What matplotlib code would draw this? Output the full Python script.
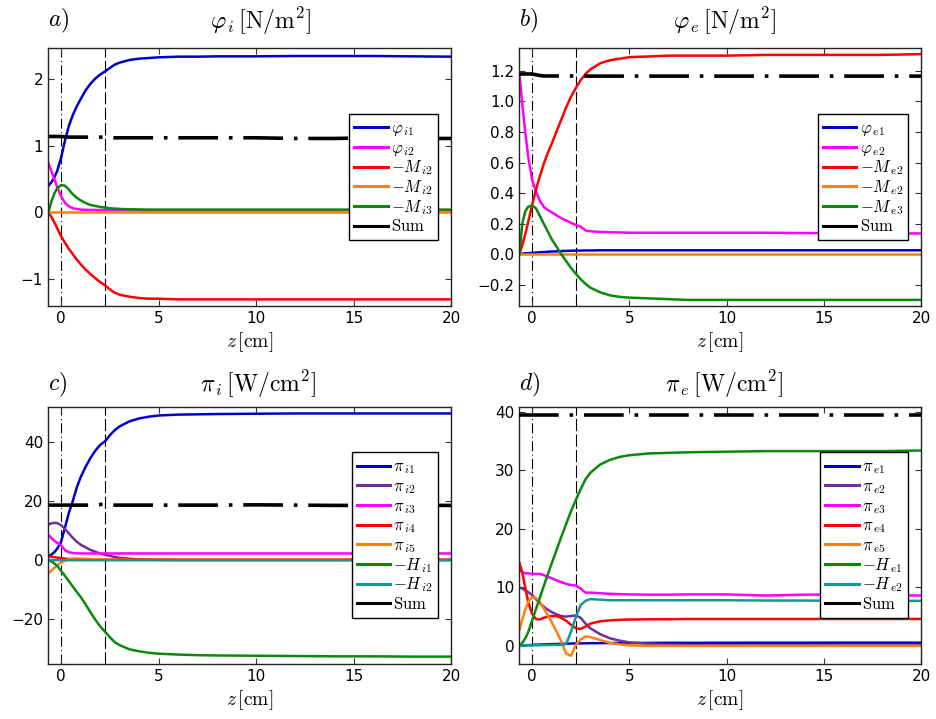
import matplotlib
matplotlib.use('Agg')
import matplotlib.pyplot as plt
from matplotlib.ticker import FuncFormatter

plt.rcParams['mathtext.fontset'] = 'cm'
plt.rcParams['font.family'] = 'DejaVu Sans'

# common z grid [cm]
z = [-0.65, -0.5, -0.35, -0.2, 0, 0.2, 0.4, 0.6, 0.8, 1.0, 1.25, 1.5, 1.75, 2.0, 2.26,
     2.5, 2.75, 3.0, 3.5, 4, 4.5, 5, 6, 7, 8, 10, 12, 14, 16, 18, 20]
z_bound = 0.0
z_dash = 2.26

# a) phi_i
a_phi1 = [0.40, 0.45, 0.52, 0.62, 0.82, 1.08, 1.30, 1.46, 1.59, 1.70, 1.83, 1.93, 2.01, 2.07, 2.12,
          2.17, 2.22, 2.25, 2.29, 2.31, 2.32, 2.33, 2.34, 2.34, 2.345, 2.345, 2.35, 2.35, 2.35, 2.345, 2.34]
a_phi2 = [0.74, 0.62, 0.50, 0.38, 0.24, 0.14, 0.09, 0.06, 0.05, 0.04, 0.037, 0.035, 0.035, 0.033, 0.032,
          0.03, 0.03, 0.03, 0.03, 0.03, 0.03, 0.03, 0.03, 0.03, 0.03, 0.03, 0.03, 0.03, 0.03, 0.03, 0.03]
a_m2 = [0.0, -0.07, -0.15, -0.24, -0.36, -0.46, -0.55, -0.63, -0.71, -0.78, -0.86, -0.93, -0.99, -1.05, -1.10,
        -1.16, -1.21, -1.24, -1.27, -1.29, -1.30, -1.30, -1.31, -1.31, -1.31, -1.31, -1.31, -1.31, -1.31, -1.31, -1.31]
a_m2b = [0.005] * 31
a_m3 = [0.0, 0.16, 0.28, 0.36, 0.41, 0.40, 0.34, 0.27, 0.22, 0.18, 0.14, 0.11, 0.095, 0.08, 0.07,
        0.06, 0.055, 0.05, 0.045, 0.043, 0.04, 0.04, 0.04, 0.04, 0.04, 0.04, 0.04, 0.04, 0.04, 0.04, 0.04]
a_sum = [1.14, 1.14, 1.14, 1.14, 1.14, 1.135, 1.13, 1.13, 1.13, 1.13, 1.13, 1.13, 1.13, 1.13, 1.13,
         1.125, 1.12, 1.12, 1.12, 1.12, 1.12, 1.12, 1.12, 1.12, 1.12, 1.12, 1.11, 1.11, 1.12, 1.11, 1.11]

# b) phi_e
b_phi1 = [0.0, 0.003, 0.005, 0.006, 0.008, 0.01, 0.012, 0.013, 0.015, 0.017, 0.018, 0.02, 0.021, 0.022, 0.023,
          0.023, 0.024, 0.024, 0.025, 0.025, 0.025, 0.025, 0.025, 0.025, 0.025, 0.025, 0.025, 0.025, 0.025, 0.025, 0.025]
b_phi2 = [1.18, 0.98, 0.80, 0.64, 0.49, 0.41, 0.35, 0.31, 0.29, 0.275, 0.255, 0.235, 0.22, 0.205, 0.19,
          0.18, 0.155, 0.15, 0.145, 0.143, 0.142, 0.14, 0.14, 0.14, 0.14, 0.14, 0.14, 0.138, 0.137, 0.136, 0.135]
b_m2 = [0.0, 0.06, 0.13, 0.21, 0.32, 0.42, 0.51, 0.59, 0.66, 0.72, 0.80, 0.88, 0.96, 1.03, 1.09,
        1.14, 1.18, 1.21, 1.25, 1.27, 1.28, 1.29, 1.295, 1.30, 1.30, 1.30, 1.305, 1.305, 1.305, 1.305, 1.31]
b_m2b = [0.0] * 31
b_m3 = [0.0, 0.20, 0.28, 0.31, 0.32, 0.30, 0.25, 0.20, 0.15, 0.10, 0.05, 0.0, -0.045, -0.09, -0.13,
        -0.165, -0.195, -0.22, -0.25, -0.27, -0.28, -0.285, -0.29, -0.295, -0.30, -0.30, -0.30, -0.30, -0.30, -0.30, -0.30]
b_sum = [1.18, 1.18, 1.18, 1.18, 1.18, 1.175, 1.17, 1.167, 1.167, 1.167, 1.167, 1.167, 1.167, 1.167, 1.167,
         1.166, 1.166, 1.166, 1.166, 1.166, 1.166, 1.166, 1.166, 1.166, 1.166, 1.166, 1.166, 1.166, 1.166, 1.166, 1.166]

# c) pi_i
c_pi1 = [1.2, 1.8, 2.6, 3.8, 6.2, 11.0, 16.0, 20.0, 24.5, 28.0, 31.5, 34.5, 37.0, 39.0, 40.3,
         42.3, 44.0, 45.3, 47.0, 48.0, 48.6, 49.0, 49.3, 49.4, 49.5, 49.6, 49.7, 49.7, 49.7, 49.7, 49.7]
c_pi2 = [12.0, 12.4, 12.6, 12.5, 11.8, 10.5, 9.0, 7.5, 6.2, 5.2, 4.3, 3.4, 2.8, 2.2, 1.7,
         1.4, 1.0, 0.7, 0.4, 0.2, 0.1, 0.05, 0.0, 0.0, 0.0, 0.0, 0.0, 0.0, 0.0, 0.0, 0.0]
c_pi3 = [8.5, 7.5, 6.5, 5.8, 5.0, 3.3, 2.6, 2.35, 2.25, 2.2, 2.2, 2.2, 2.2, 2.2, 2.2,
         2.2, 2.2, 2.2, 2.2, 2.2, 2.2, 2.2, 2.2, 2.2, 2.2, 2.2, 2.2, 2.2, 2.2, 2.2, 2.2]
c_pi4 = [1.2, 1.1, 0.95, 0.8, 0.6, 0.45, 0.3, 0.2, 0.15, 0.12, 0.1, 0.1, 0.1, 0.1, 0.1,
         0.1, 0.1, 0.1, 0.1, 0.1, 0.1, 0.1, 0.1, 0.1, 0.1, 0.1, 0.1, 0.1, 0.1, 0.1, 0.1]
c_pi5 = [-4.5, -3.6, -2.7, -1.8, -0.9, -0.2, 0.3, 0.5, 0.5, 0.45, 0.4, 0.3, 0.25, 0.2, 0.15,
         0.1, 0.08, 0.05, 0.0, 0.0, 0.0, 0.0, 0.0, 0.0, 0.0, 0.0, 0.0, 0.0, 0.0, 0.0, 0.0]
c_h1 = [0.0, -0.5, -1.2, -2.0, -3.7, -5.4, -7.2, -9.0, -10.8, -12.5, -15.0, -17.7, -20.2, -22.5, -24.4,
        -26.2, -27.9, -28.9, -30.3, -31.0, -31.5, -31.8, -32.1, -32.3, -32.4, -32.5, -32.6, -32.7, -32.7, -32.8, -32.8]
c_h2 = [0.0, -0.05, -0.1, -0.1, -0.1, -0.1, -0.1, -0.1, -0.1, -0.1, -0.1, -0.1, -0.1, -0.1, -0.1,
        -0.1, -0.1, -0.1, -0.1, -0.1, -0.1, -0.1, -0.1, -0.1, -0.1, -0.1, -0.1, -0.1, -0.1, -0.1, -0.1]
c_sum = [18.6, 18.6, 18.6, 18.6, 18.6, 18.6, 18.6, 18.6, 18.6, 18.6, 18.6, 18.6, 18.7, 18.8, 19.0,
         18.8, 18.6, 18.6, 18.6, 18.6, 18.6, 18.6, 18.6, 18.6, 18.6, 18.7, 18.6, 18.5, 18.5, 18.5, 18.5]

# d) pi_e
d_pi1 = [0.0, 0.05, 0.1, 0.12, 0.15, 0.2, 0.22, 0.25, 0.27, 0.3, 0.32, 0.35, 0.37, 0.4, 0.41,
         0.42, 0.44, 0.45, 0.47, 0.48, 0.49, 0.5, 0.5, 0.52, 0.52, 0.53, 0.54, 0.54, 0.55, 0.55, 0.55]
d_pi2 = [10.0, 9.8, 9.5, 9.2, 8.7, 8.0, 7.3, 6.7, 6.2, 5.8, 5.4, 5.1, 5.0, 5.1, 5.2,
         4.8, 3.8, 3.0, 2.0, 1.3, 0.9, 0.6, 0.35, 0.2, 0.15, 0.1, 0.1, 0.1, 0.1, 0.1, 0.1]
d_pi3 = [13.0, 12.6, 12.4, 12.4, 12.3, 12.3, 12.3, 12.1, 11.8, 11.6, 11.2, 10.9, 10.6, 10.4, 10.3,
         9.8, 9.1, 9.1, 9.0, 8.9, 8.85, 8.8, 8.75, 8.75, 8.8, 8.8, 8.6, 8.75, 8.8, 8.7, 8.6]
d_pi4 = [14.2, 12.5, 10.0, 7.5, 5.5, 4.6, 4.5, 4.8, 5.0, 5.1, 5.1, 4.8, 4.3, 3.6, 3.0,
         2.9, 3.3, 3.8, 4.2, 4.35, 4.45, 4.5, 4.55, 4.55, 4.6, 4.6, 4.6, 4.6, 4.6, 4.6, 4.6]
d_pi5 = [2.7, 4.5, 6.2, 7.5, 8.3, 8.2, 7.5, 6.4, 5.3, 4.1, 2.5, 0.8, -1.3, -1.7, 0.2,
         1.1, 1.6, 1.5, 1.0, 0.5, 0.25, 0.1, 0.0, 0.0, 0.0, 0.0, 0.0, 0.0, 0.0, 0.0, 0.0]
d_h1 = [0.0, 0.5, 1.3, 2.3, 4.3, 6.3, 8.2, 10.2, 12.1, 14.0, 16.3, 18.6, 20.8, 23.0, 25.0,
        26.8, 28.5, 29.6, 31.0, 31.8, 32.3, 32.6, 32.9, 33.0, 33.1, 33.2, 33.3, 33.3, 33.3, 33.3, 33.4]
d_h2 = [0.0, 0.05, 0.08, 0.1, 0.1, 0.1, 0.12, 0.13, 0.15, 0.15, 0.17, 0.2, 0.3, 2.4, 5.0,
        7.0, 7.7, 8.0, 7.9, 7.8, 7.8, 7.8, 7.8, 7.8, 7.8, 7.8, 7.75, 7.75, 7.7, 7.7, 7.7]
d_sum = [39.5] * 31

blue = '#0000cc'
purple = '#6f2f9f'
magenta = '#ff00ff'
red = '#ff0000'
orange = '#ff8010'
green = '#0a8a0a'
teal = '#119999'

panels = [
    ('a)', r'$\varphi_{\,i}\,[\mathrm{N/m^2}]$', (-1.41, 2.47), [-1, 0, 1, 2], '%g',
     [(a_phi1, blue, r'$\varphi_{\,i1}$'), (a_phi2, magenta, r'$\varphi_{\,i2}$'),
      (a_m2, red, r'$-M_{\,i2}$'), (a_m2b, orange, r'$-M_{\,i2}$'),
      (a_m3, green, r'$-M_{\,i3}$')], a_sum),
    ('b)', r'$\varphi_{\,e}\,[\mathrm{N/m^2}]$', (-0.34, 1.35), [-0.2, 0, 0.2, 0.4, 0.6, 0.8, 1.0, 1.2], '%.1f',
     [(b_phi1, blue, r'$\varphi_{\,e1}$'), (b_phi2, magenta, r'$\varphi_{\,e2}$'),
      (b_m2, red, r'$-M_{\,e2}$'), (b_m2b, orange, r'$-M_{\,e2}$'),
      (b_m3, green, r'$-M_{\,e3}$')], b_sum),
    ('c)', r'$\pi_{\,i}\,[\mathrm{W/cm^2}]$', (-35.3, 52.0), [-20, 0, 20, 40], '%g',
     [(c_pi1, blue, r'$\pi_{\,i1}$'), (c_pi2, purple, r'$\pi_{\,i2}$'),
      (c_pi3, magenta, r'$\pi_{\,i3}$'), (c_pi4, red, r'$\pi_{\,i4}$'),
      (c_pi5, orange, r'$\pi_{\,i5}$'), (c_h1, green, r'$-H_{\,i1}$'),
      (c_h2, teal, r'$-H_{\,i2}$')], c_sum),
    ('d)', r'$\pi_{\,e}\,[\mathrm{W/cm^2}]$', (-3.1, 40.9), [0, 10, 20, 30, 40], '%g',
     [(d_pi1, blue, r'$\pi_{\,e1}$'), (d_pi2, purple, r'$\pi_{\,e2}$'),
      (d_pi3, magenta, r'$\pi_{\,e3}$'), (d_pi4, red, r'$\pi_{\,e4}$'),
      (d_pi5, orange, r'$\pi_{\,e5}$'), (d_h1, green, r'$-H_{\,e1}$'),
      (d_h2, teal, r'$-H_{\,e2}$')], d_sum),
]

fig = plt.figure(figsize=(9.36, 7.19), dpi=100)
boxes = [[0.0513, 0.5744, 0.4306, 0.3588], [0.5545, 0.5744, 0.4295, 0.3588],
         [0.0513, 0.0765, 0.4306, 0.3579], [0.5545, 0.0765, 0.4295, 0.3579]]
title_x = [0.526, 0.51, 0.52, 0.51]
text_y = [1.105, 1.105, 1.085, 1.085]


def make_fmt(fmt):
    return FuncFormatter(lambda v, p: (fmt % v).replace('-', '\u2212'))


for i, (tag, title, ylim, yt, fmt, series, total) in enumerate(panels):
    ax = fig.add_axes(boxes[i])
    ax.axvline(z_bound, color='k', lw=0.8, dashes=(9, 3, 1, 3), zorder=1)
    ax.axvline(z_dash, color='k', lw=0.8, dashes=(11, 3), zorder=1)
    for vals, col, lab in series:
        ax.plot(z, vals, color=col, lw=1.8, label=lab, zorder=2)
    ax.plot(z, total, color='k', lw=2.6, dashes=(11, 3, 1, 3),
            label=r'$\mathrm{Sum}$', zorder=3)
    ax.set_xlim(-0.67, 20)
    ax.set_ylim(*ylim)
    ax.set_xticks([0, 5, 10, 15, 20])
    ax.set_yticks(yt)
    ax.yaxis.set_major_formatter(make_fmt(fmt))
    ax.tick_params(direction='in', top=True, right=True, length=4, labelsize=11,
                   color='#333333')
    for s in ax.spines.values():
        s.set_color('#222222')
        s.set_linewidth(1.0)
    ax.set_xlabel(r'$z\,[\mathrm{cm}]$', fontsize=14, labelpad=3)
    ax.text(0.0, text_y[i], r'$%s$' % tag, transform=ax.transAxes, fontsize=17,
            ha='left', va='center')
    ax.text(title_x[i], text_y[i], title, transform=ax.transAxes, fontsize=17,
            ha='center', va='center')
    leg = ax.legend(loc='center right', bbox_to_anchor=(0.968, 0.5), fontsize=12,
                    frameon=True, fancybox=False, framealpha=1, edgecolor='k',
                    borderaxespad=0, borderpad=0.3, labelspacing=0.05,
                    handlelength=2.0, handletextpad=0.2)
    leg.get_frame().set_linewidth(1.0)
    for ln in leg.get_lines():
        ln.set_linewidth(2.2)
        ln.set_linestyle('-')

plt.savefig('out.png', dpi=100)
